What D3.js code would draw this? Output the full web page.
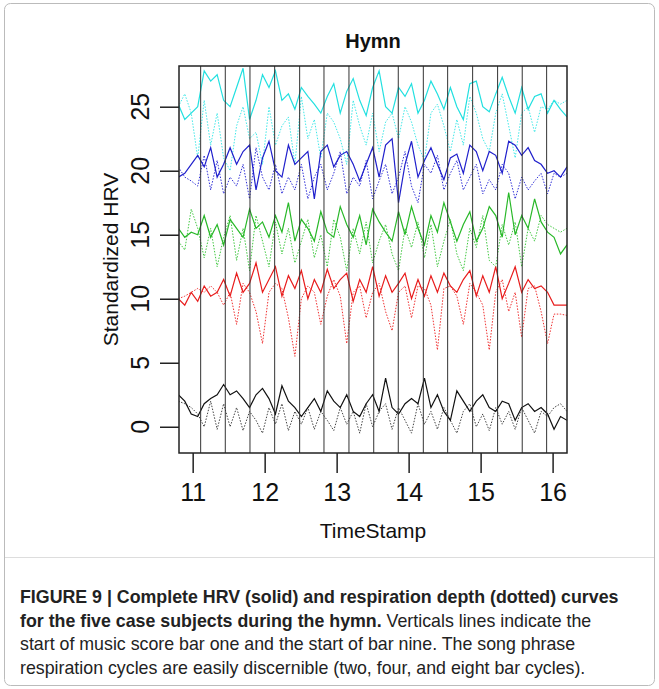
<!DOCTYPE html>
<html><head><meta charset="utf-8">
<script src="https://cdn.jsdelivr.net/npm/d3@7"></script>
<style>body{margin:0;background:#fff}</style>
</head><body>
<svg id="fig" width="659" height="689"></svg>
<script>
// time stamps shared by all curves
const times = [10.80,10.89,10.98,11.07,11.16,11.25,11.34,11.43,11.52,11.61,11.70,11.79,11.88,11.97,12.06,12.15,12.24,12.33,12.42,12.51,12.60,12.69,12.78,12.87,12.96,13.05,13.14,13.23,13.32,13.41,13.50,13.59,13.68,13.77,13.86,13.95,14.04,14.13,14.22,14.31,14.40,14.49,14.58,14.67,14.76,14.85,14.94,15.03,15.12,15.21,15.30,15.39,15.48,15.57,15.66,15.75,15.84,15.93,16.02,16.11,16.20];
const barStarts = [11.111,11.453,11.796,12.139,12.486,12.824,13.171,13.515,13.856,14.204,14.542,14.889,15.236,15.578,15.917];
const yTicks = [0,5,10,15,20,25];
const xTicks = [11,12,13,14,15,16];

const cyanSolid = [25.2,24,24.5,25,27.8,27,27.5,25.5,25,26.5,28,24,25.5,27.5,26.5,27.8,25.5,26,24.8,26.5,25.8,25.2,24.5,25.8,26.8,24.5,26.2,27.2,25.5,24.3,26.5,27.8,25,24.5,26.5,25.8,26.8,24.5,25.5,27,26,24.8,26.5,25,24,26.8,27,25,24.6,26,27.3,25.8,24.5,26.5,24.8,25.8,26,24.5,25.5,24.8,24.2];
const cyanDotted = [25,26,24.5,21,25.5,22,24.5,21,20,23.5,25,22.5,23,20.5,25,22,23.5,24.2,20.5,25.8,22.5,24,21,24.5,23.8,22.5,20.5,25.5,23.5,22,24.5,21.5,23.8,24.5,22.5,25,23.8,22,20.8,24.5,25.2,23.5,21.5,24,22,25.8,24.5,22.5,21.5,24.5,26,23.5,21,24.5,25,23,25,24.8,25.5,25.2,25.5];
const blueSolid = [19.5,19.8,20.5,21.2,20.3,21.8,19.5,20.5,21.8,20.5,21.5,22,18.5,21,22.3,20,19.5,22,20.5,21,21.5,17.8,21.5,22,20.3,21.2,21.5,20.5,19.2,20.5,21.8,19.5,22,22.5,17.5,20.5,22.3,19.5,20.8,21.8,20.5,19.3,21,21.3,19.8,22,21.5,20,21.5,21.2,19.8,22.3,22,21.2,21.8,20.8,20.5,19.8,20,19.5,20.3];
const blueDotted = [20.3,19.5,19.2,18.8,21.2,18.5,20.8,18.2,19.5,18.8,20.5,17.8,21.8,19.5,18.5,20.5,18.2,19.5,18.5,20.5,17.8,19.5,20.5,18.5,19.8,21.5,18.2,19.5,18.8,20.8,17.8,19.2,20.5,18.2,19.5,21.5,18.8,17.5,20.5,19.8,21.2,18.5,19.8,20.8,18.5,19.5,20.5,18.2,19.3,18.5,20.5,19.8,17.8,19.5,18.5,19.2,19.8,18.2,19.8,19.5,19.8];
const greenSolid = [15.5,14.8,15.2,15,16.5,14.8,15.8,14.2,16.2,15.5,14.8,17,15.5,16,14.8,16.5,15.2,17.5,14.5,16.2,15.5,14.5,16.8,15.2,14.8,17.2,15.8,14.8,16.5,14.2,17,16,15.2,14.5,16.8,15,17.2,15.5,14.2,16.5,15.2,17.5,16,14.5,15.8,16.8,14.5,15.5,17.2,16.5,14.8,18.3,15,16.5,15.5,17.8,16,15.2,14.8,13.5,14.2];
const greenDotted = [14.5,13.8,17,15.5,13.2,15.5,12.5,14.8,16.5,13,15.5,12.2,16.5,14.5,12.5,16,13.5,15.5,12.8,14.5,16.2,13.2,15,12.5,16.2,14.8,12.2,15.5,13.5,16,12.8,14.5,15.8,13.5,12.2,15.5,14,16,13.2,15.8,12.5,14.5,16.2,13.5,12.2,15.5,14,16.5,13,12.5,15.8,14.2,16,12.5,15.5,14.5,16.5,15.8,15.5,15.2,15.5];
const redSolid = [10,9.5,10.5,9.8,11,10.2,10.5,11.5,10.2,12,10.5,11.2,12.8,10.5,11.5,12.5,10.2,11.8,10.8,12.2,10,11.5,10.5,12.3,10.8,11.5,12,9.8,11.5,10.5,12.5,10.2,11.8,10.5,11.2,12,10,11.5,10.2,11.8,10.5,12,11,10.5,11.5,12.2,10.2,11.8,10.5,12.5,10,11.2,12.5,10.5,11.5,10.8,11,10.5,9.5,9.5,9.5];
const redDotted = [10,10.2,10.5,10.8,10.5,11,10.5,9.5,10.5,8,11.2,10.5,9,6.5,10.5,11.2,10.8,8.5,5.5,10,11,10.5,8,10.2,11.5,10.2,6.5,10.5,11,8.5,10.5,11.2,9,7.5,10.5,11,8.5,11,10.8,9.5,6,10.8,11,10.2,8,11.2,10.5,9.5,6,10.5,11.5,9,10.5,7,10.8,11,9,6.5,8.8,8.8,8.7];
const blackSolid = [2.5,2,1,0.8,1.8,2.2,2.5,3.3,2.5,2.8,2.2,1.5,2.5,3,2.2,1,3.2,2,1.5,0.8,1.5,2.2,1.2,2.8,2,1.5,2.5,1.2,0.8,1.8,2.5,1.2,3.8,1.5,1,1.8,2.2,1.8,3.8,1.5,2.5,1.2,0.5,2.8,2,1.2,2,2.5,1.5,1.2,2,1.8,0.5,1.5,1.8,1.2,1.5,1,-0.2,0.8,0.5];
const blackDotted = [2,1.8,1.5,1,0,2,-0.2,1.8,0,1.5,-0.3,1.2,0.5,-0.5,1.5,0.2,1.8,-0.3,1.2,0.2,1.5,-0.2,1.2,0.5,-0.3,1.5,0.2,1.2,-0.5,1.8,0,1.2,1.8,-0.2,1.5,0.5,-0.5,1.8,0.2,1.2,-0.2,1.5,0.5,-0.5,1.2,1.8,0,1,-0.3,1.5,0.2,1.2,-0.2,1.5,0.5,-0.5,1.2,0.8,1.5,1.8,1.2];

const series = [
  { values: cyanDotted, color: "#40e8e8", dotted: true },
  { values: cyanSolid, color: "#22e0e0", dotted: false },
  { values: blueDotted, color: "#3030d8", dotted: true },
  { values: blueSolid, color: "#2020cc", dotted: false },
  { values: greenDotted, color: "#40c840", dotted: true },
  { values: greenSolid, color: "#28b828", dotted: false },
  { values: redDotted, color: "#f03030", dotted: true },
  { values: redSolid, color: "#e81c1c", dotted: false },
  { values: blackDotted, color: "#444", dotted: true },
  { values: blackSolid, color: "#111", dotted: false }
];

const svg = d3.select("#fig");
const margin = { top: 66, right: 92, bottom: 236, left: 179 };
const width = 659, height = 689;

// frame
svg.append("rect").attr("x", 4.5).attr("y", 3.5).attr("width", 650).attr("height", 682)
  .attr("rx", 6).attr("fill", "#fff").attr("stroke", "#bbb");
svg.append("line").attr("x1", 5).attr("x2", 654).attr("y1", 557.5).attr("y2", 557.5)
  .attr("stroke", "#ddd");

const x = d3.scaleLinear().domain([10.81, 16.2]).range([margin.left, width - margin.right]);
const y = d3.scaleLinear().domain([-2.05, 28.18]).range([height - margin.bottom, margin.top]);

svg.append("defs").append("clipPath").attr("id", "clip").append("rect")
  .attr("x", x.range()[0]).attr("y", y.range()[1])
  .attr("width", x.range()[1] - x.range()[0]).attr("height", y.range()[0] - y.range()[1]);

const plot = svg.append("g").attr("clip-path", "url(#clip)");
const line = d3.line().x((d, i) => x(times[i])).y((d) => y(d));

series.forEach((s) => {
  plot.append("path").datum(s.values).attr("fill", "none").attr("stroke", s.color)
    .attr("stroke-width", s.dotted ? 1 : 1.2)
    .attr("stroke-dasharray", s.dotted ? "1.5,1.5" : null)
    .attr("d", line);
});

plot.selectAll(".bar").data(barStarts).join("line")
  .attr("x1", (d) => x(d)).attr("x2", (d) => x(d))
  .attr("y1", y.range()[1]).attr("y2", y.range()[0])
  .attr("stroke", "#333").attr("stroke-width", 1);

svg.append("rect").attr("x", x.range()[0]).attr("y", y.range()[1])
  .attr("width", x.range()[1] - x.range()[0]).attr("height", y.range()[0] - y.range()[1])
  .attr("fill", "none").attr("stroke", "#222").attr("stroke-width", 1.5);

// axes
const font = "Liberation Sans, Arial, sans-serif";
const xAxis = svg.append("g").attr("transform", `translate(0,${y.range()[0]})`)
  .call(d3.axisBottom(x).tickValues(xTicks).tickSize(20).tickPadding(10).tickFormat(d3.format("d")));
xAxis.select(".domain").remove();
xAxis.selectAll("line").attr("stroke", "#222").attr("stroke-width", 1.5);
xAxis.selectAll("text").attr("font-family", font).attr("font-size", 25).attr("fill", "#111");

const yAxis = svg.append("g").attr("transform", `translate(${x.range()[0]},0)`)
  .call(d3.axisLeft(y).tickValues(yTicks).tickSize(19).tickFormat(""));
yAxis.select(".domain").remove();
yAxis.selectAll("line").attr("stroke", "#222").attr("stroke-width", 1.5);
svg.append("g").selectAll("text").data(yTicks).join("text")
  .attr("transform", (d) => `translate(149,${y(d)}) rotate(-90)`)
  .attr("text-anchor", "middle").attr("font-family", font).attr("font-size", 25).attr("fill", "#111")
  .text((d) => d);

svg.append("text").attr("transform", `translate(118,${(y.range()[0] + y.range()[1]) / 2}) rotate(-90)`)
  .attr("text-anchor", "middle").attr("font-family", font).attr("font-size", 21).attr("fill", "#111")
  .text("Standardized HRV");
svg.append("text").attr("x", (x.range()[0] + x.range()[1]) / 2).attr("y", 538)
  .attr("text-anchor", "middle").attr("font-family", font).attr("font-size", 21).attr("fill", "#111")
  .text("TimeStamp");
svg.append("text").attr("x", (x.range()[0] + x.range()[1]) / 2).attr("y", 48)
  .attr("text-anchor", "middle").attr("font-family", font).attr("font-size", 20)
  .attr("font-weight", "bold").attr("fill", "#111").text("Hymn");

// caption
const capLines = [
  [["FIGURE 9 | Complete HRV (solid) and respiration depth (dotted) curves", true]],
  [["for the five case subjects during the hymn.", true], [" Verticals lines indicate the", false]],
  [["start of music score bar one and the start of bar nine. The song phrase", false]],
  [["respiration cycles are easily discernible (two, four, and eight bar cycles).", false]]
];
capLines.forEach((ln, i) => {
  const t = svg.append("text").attr("x", 20).attr("y", 603 + i * 23.5)
    .attr("font-family", font).attr("font-size", 17.8).attr("fill", "#222");
  ln.forEach(([s, b]) => t.append("tspan").attr("font-weight", b ? "bold" : "normal").text(s));
});
</script>
</body></html>
